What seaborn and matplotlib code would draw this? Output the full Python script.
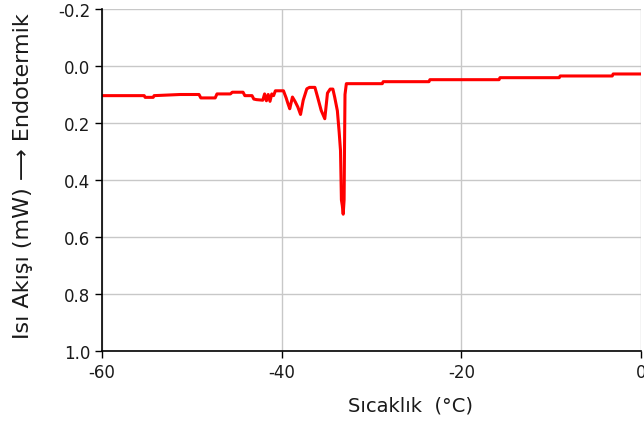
import matplotlib
matplotlib.use("Agg")
import matplotlib.pyplot as plt
import seaborn as sns
import pandas as pd

# Temperature (°C) and heat flow (mW)
temperature = [-60.0, -55.3, -55.2, -54.3, -54.2, -51.3, -49.2, -49.0, -47.4, -47.2,
               -45.7, -45.5, -44.3, -44.1, -43.3, -43.1, -42.8, -42.1, -41.9, -41.7,
               -41.5, -41.3, -41.1, -40.9, -40.7, -39.8, -39.5, -39.3, -39.1, -38.8,
               -38.5, -38.2, -37.9, -37.6, -37.2, -36.9, -36.3, -36.0, -35.6, -35.2,
               -34.9, -34.6, -34.3, -34.1, -33.8, -33.6, -33.45, -33.35, -33.25, -33.15,
               -33.05, -33.0, -32.95, -32.8, -28.8, -28.7, -23.6, -23.5, -15.8, -15.7,
               -9.1, -9.0, -3.2, -3.1, 0.0]
heat_flow = [0.104, 0.104, 0.110, 0.110, 0.104, 0.100, 0.100, 0.112, 0.112, 0.098,
             0.098, 0.092, 0.092, 0.104, 0.104, 0.116, 0.118, 0.120, 0.098, 0.122,
             0.100, 0.124, 0.098, 0.104, 0.087, 0.087, 0.112, 0.132, 0.150, 0.109,
             0.125, 0.144, 0.170, 0.120, 0.080, 0.075, 0.075, 0.109, 0.156, 0.185,
             0.095, 0.081, 0.081, 0.109, 0.157, 0.232, 0.297, 0.470, 0.490, 0.520,
             0.470, 0.270, 0.100, 0.062, 0.062, 0.055, 0.055, 0.048, 0.048, 0.041,
             0.041, 0.035, 0.035, 0.028, 0.028]

x_ticks = [-60, -40, -20, 0]
x_tick_labels = ["-60", "-40", "-20", "0"]
y_ticks = [-0.2, 0.0, 0.2, 0.4, 0.6, 0.8, 1.0]
y_tick_labels = ["-0.2", "0.0", "0.2", "0.4", "0.6", "0.8", "1.0"]

df = pd.DataFrame({"T": temperature, "H": heat_flow})

sns.set_theme(style="white")
plt.rcParams["font.family"] = ["DejaVu Sans"]

fig = plt.figure(figsize=(6.44, 4.27), dpi=100)
ax = fig.add_axes([102/644, 1-352/427, 539/644, 342/427])

sns.lineplot(data=df, x="T", y="H", estimator=None, sort=False,
             color="#FF0000", linewidth=2.2, ax=ax)

ax.set_xlim(-60, 0)
ax.set_ylim(1.0, -0.2)
ax.set_xticks(x_ticks)
ax.set_xticklabels(x_tick_labels)
ax.set_yticks(y_ticks)
ax.set_yticklabels(y_tick_labels)

ax.grid(True, color="#C8C8C8", linewidth=1.0)
ax.set_axisbelow(True)
for s in ["top", "right"]:
    ax.spines[s].set_visible(False)
for s in ["left", "bottom"]:
    ax.spines[s].set_color("black")
    ax.spines[s].set_linewidth(1.2)
ax.tick_params(axis="both", which="major", direction="out", length=5, width=1.0,
               color="black", labelsize=12, labelcolor="#1a1a1a",
               left=True, bottom=True)

ax.set_xlabel("Sıcaklık  (°C)", fontsize=14, color="#1a1a1a")
ax.set_ylabel("Isı Akışı (mW) ⟶ Endotermik", fontsize=16, color="#1a1a1a")
ax.xaxis.set_label_coords(0.573, -0.13)
ax.yaxis.set_label_coords(-0.128, 0.515)

fig.savefig("out.png", dpi=100)
